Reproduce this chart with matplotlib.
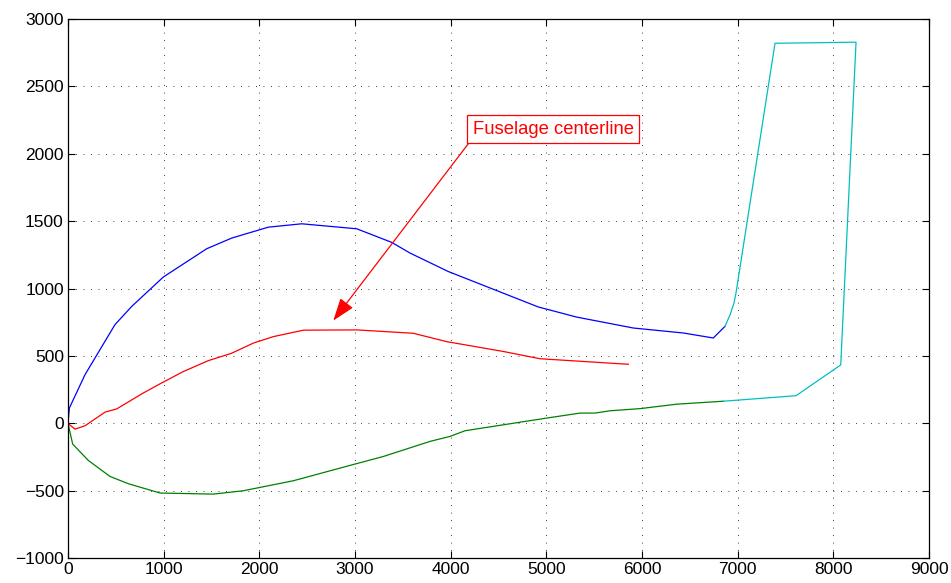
import numpy as np
import matplotlib.pyplot as plt

plt.rcParams['font.family'] = ['Liberation Sans', 'DejaVu Sans']

# upper outline (blue)
upper_x = [0, 14, 178, 491, 666, 996, 1450, 1711, 2094, 2443, 3018, 3384, 3575,
           3975, 4916, 5317, 5909, 6432, 6745, 6867]
upper_y = [0, 114, 362, 733, 868, 1086, 1296, 1375, 1456, 1481, 1444, 1343, 1264,
           1127, 864, 789, 708, 671, 634, 720]

# fuselage centerline (red)
center_x = [0, 73, 178, 387, 509, 787, 962, 1205, 1467, 1711, 1937, 2146, 2460,
            3018, 3609, 3958, 4550, 4934, 5857]
center_y = [0, -42, -17, 84, 108, 226, 294, 385, 466, 521, 596, 644, 692,
            694, 669, 607, 534, 480, 439]

# lower outline (green)
lower_x = [0, 49, 212, 439, 631, 962, 1519, 1833, 2355, 2948, 3296, 3784, 3993,
           4150, 5004, 5352, 5509, 5665, 5979, 6362, 6850]
lower_y = [0, -153, -274, -393, -447, -516, -524, -499, -425, -311, -245, -133, -96,
           -54, 40, 77, 77, 94, 110, 143, 165]

# tail fin outline (cyan)
tail_x = [6867, 6920, 6961, 6982, 7390, 8237, 8077, 7610, 6850]
tail_y = [720, 806, 892, 966, 2820, 2828, 434, 206, 165]

fig = plt.figure(figsize=(9.51, 5.83), dpi=100)
ax = fig.add_axes([0.0715, 0.0424, 0.9054, 0.925])

ax.plot(upper_x, upper_y, color=(0, 0, 1), lw=0.9)
ax.plot(center_x, center_y, color=(1, 0, 0), lw=0.9)
ax.plot(lower_x, lower_y, color=(0, 0.5, 0), lw=0.9)
ax.plot(tail_x, tail_y, color=(0, 0.75, 0.75), lw=0.9)

ax.annotate('Fuselage centerline', xy=(2773, 763), xytext=(5073, 2182),
            ha='center', va='center', color='red', fontsize=13.3,
            bbox=dict(boxstyle='square,pad=0.3', fc='white', ec='red', lw=0.9),
            arrowprops=dict(arrowstyle='-|>,head_length=1.0,head_width=0.35',
                            color='red', lw=0.9, relpos=(0, 0),
                            shrinkA=0, shrinkB=0, mutation_scale=14))

ax.set_xlim(0, 9000)
ax.set_ylim(-1000, 3000)
ax.set_xticks(np.arange(0, 9001, 1000))
ax.set_yticks(np.arange(-1000, 3001, 500))
ax.grid(True, color='black', linestyle=(0, (1, 8)), lw=0.6)
ax.tick_params(direction='in', top=True, right=True, labelsize=12.5, length=5,
               width=0.8, pad=3)
for s in ax.spines.values():
    s.set_linewidth(0.9)

fig.savefig('out.png', dpi=100)
